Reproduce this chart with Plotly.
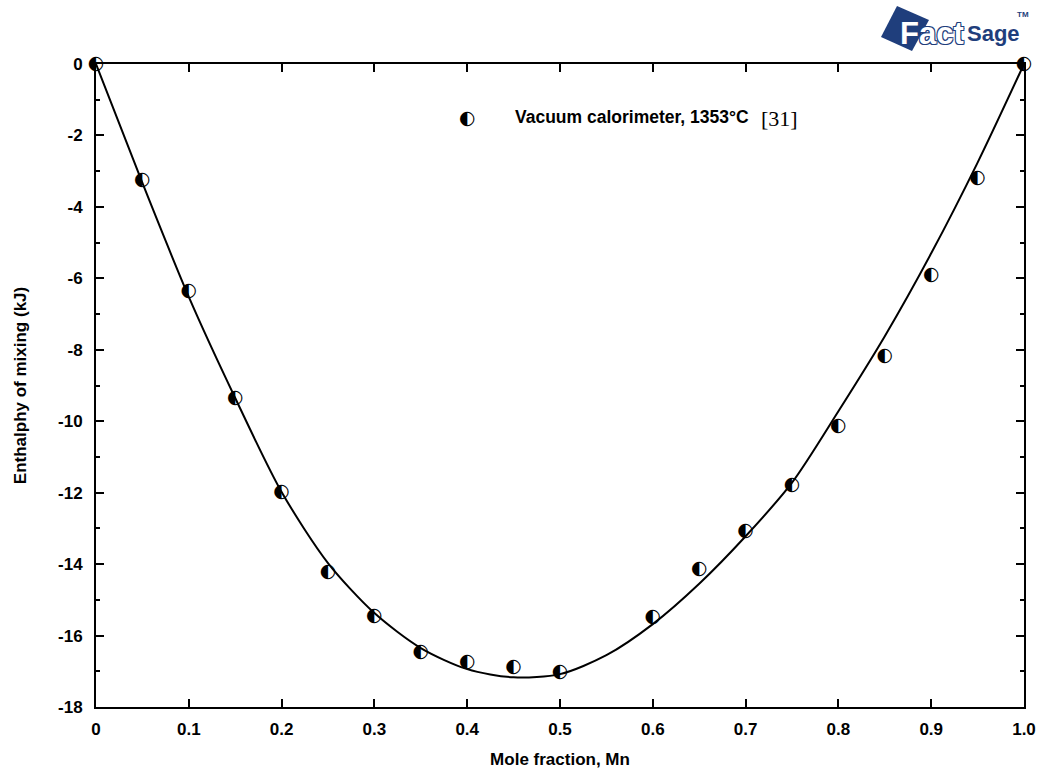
import plotly.graph_objects as go

# Measured enthalpy of mixing (vacuum calorimeter, 1353 °C)
x_exp = [0.0, 0.05, 0.10, 0.15, 0.20, 0.25, 0.30, 0.35, 0.40, 0.45, 0.50,
         0.60, 0.65, 0.70, 0.75, 0.80, 0.85, 0.90, 0.95, 1.0]
h_exp = [0.0, -3.25, -6.35, -9.35, -12.0, -14.22, -15.46, -16.48, -16.76, -16.90, -17.02,
         -15.50, -14.14, -13.09, -11.78, -10.14, -8.18, -5.91, -3.20, 0.0]

# Calculated (model) curve
x_calc = [0.0, 0.05, 0.10, 0.15, 0.20, 0.25, 0.30, 0.35, 0.40, 0.45, 0.50,
          0.55, 0.60, 0.65, 0.70, 0.75, 0.80, 0.85, 0.90, 0.95, 1.0]
h_calc = [0.0, -3.33, -6.52, -9.35, -11.98, -13.97, -15.37, -16.35, -16.94, -17.17, -17.08,
          -16.55, -15.68, -14.55, -13.22, -11.72, -9.72, -7.62, -5.30, -2.76, 0.0]

x_ticks = [0, 0.1, 0.2, 0.3, 0.4, 0.5, 0.6, 0.7, 0.8, 0.9, 1.0]
x_labels = ["0", "0.1", "0.2", "0.3", "0.4", "0.5", "0.6", "0.7", "0.8", "0.9", "1.0"]
y_ticks = [0, -2, -4, -6, -8, -10, -12, -14, -16, -18]
y_labels = ["0", "-2", "-4", "-6", "-8", "-10", "-12", "-14", "-16", "-18"]

SYMBOL = "\u25D0"  # circle with left half black
SANS = "Liberation Sans, Arial, sans-serif"
LABEL_FONT = dict(family=SANS, size=17, color="black")
LOGO_BLUE = "#1f3e7c"

W, H = 1042, 769
L, R, T, B = 96, 18, 64, 62


def px(xp):
    return (xp - L) / (W - L - R)


def py(yp):
    return (H - B - yp) / (H - T - B)


def bold(items):
    return [f"<b>{s}</b>" for s in items]


fig = go.Figure()

fig.add_trace(go.Scatter(
    x=x_calc, y=h_calc, mode="lines",
    line=dict(color="black", width=2, shape="spline", smoothing=0.8),
    hoverinfo="skip", showlegend=False,
))

fig.add_trace(go.Scatter(
    x=x_exp, y=h_exp, mode="text", text=[SYMBOL] * len(x_exp),
    textposition="middle center",
    textfont=dict(family="DejaVu Sans", size=19, color="black"),
    cliponaxis=False, showlegend=False,
))

axis_common = dict(
    showline=True, linecolor="black", linewidth=2, mirror="ticks",
    ticks="inside", tickcolor="black", tickwidth=2, ticklen=8,
    showgrid=False, zeroline=False, tickfont=LABEL_FONT, automargin=False,
)

fig.update_xaxes(
    range=[0, 1], tickvals=x_ticks, ticktext=bold(x_labels),
    ticklabelstandoff=6,
    title=dict(text="<b>Mole fraction, Mn</b>", font=LABEL_FONT, standoff=20),
    **axis_common,
)
fig.update_yaxes(
    range=[-18, 0], tickvals=y_ticks, ticktext=bold(y_labels),
    ticklabelstandoff=8,
    minor=dict(dtick=1, ticks="inside", ticklen=4, tickwidth=2, tickcolor="black"),
    title=dict(text="<b>Enthalphy of mixing (kJ)</b>", font=LABEL_FONT, standoff=27),
    **axis_common,
)


def note(x, y, text, font, xanchor="center"):
    return dict(x=px(x), y=py(y), xref="paper", yref="paper", text=text,
                showarrow=False, xanchor=xanchor, yanchor="middle", font=font)


annotations = [
    note(467, 117, SYMBOL, dict(family="DejaVu Sans", size=19, color="black")),
    note(513, 117, "<b>Vacuum calorimeter, 1353°C</b>", dict(LABEL_FONT, size=17.5), "left"),
    note(759, 118, "[31]", dict(family="Liberation Serif, Times New Roman, serif",
                                size=22, color="black"), "left"),
    # FactSage logo lettering
    note(898, 33, "<b>Fact</b>",
         dict(family=SANS, size=31, color="white",
              shadow=f"1px 1px 0 {LOGO_BLUE}, -1px -1px 0 {LOGO_BLUE}, "
                     f"1px -1px 0 {LOGO_BLUE}, -1px 1px 0 {LOGO_BLUE}"), "left"),
    note(965, 33, "<b>Sage</b>", dict(family=SANS, size=22, color=LOGO_BLUE), "left"),
    note(1015, 14, "<b>TM</b>", dict(family=SANS, size=8, color=LOGO_BLUE), "left"),
]

# Rotated square behind the logo lettering
sq = [(897, 6), (929, 20), (912, 51), (881, 37)]
path = "M " + " L ".join(f"{px(a)},{py(b)}" for a, b in sq) + " Z"

fig.update_layout(
    width=W, height=H,
    margin=dict(l=L, r=R, t=T, b=B),
    paper_bgcolor="white", plot_bgcolor="white",
    annotations=annotations,
    shapes=[dict(type="path", xref="paper", yref="paper", path=path,
                 fillcolor=LOGO_BLUE, line=dict(width=0), layer="below")],
)

fig.write_html("out.html")
